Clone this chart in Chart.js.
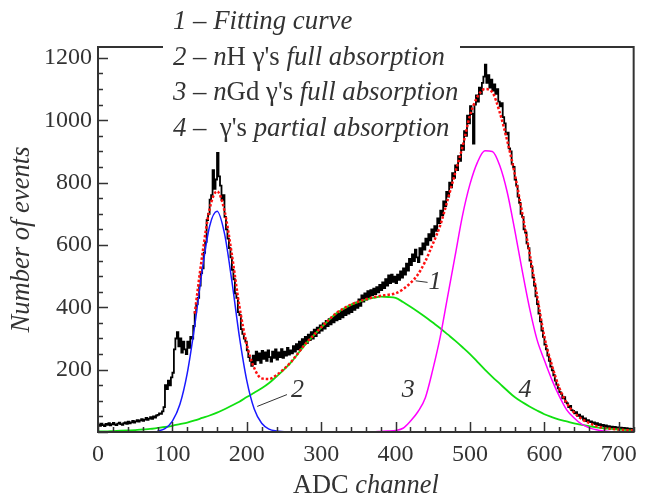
<!DOCTYPE html>
<html>
<head>
<meta charset="utf-8">
<script src="https://cdn.jsdelivr.net/npm/chart.js@4.4.0/dist/chart.umd.min.js"></script>
<style>
  html, body { margin: 0; padding: 0; background: #fff; }
</style>
</head>
<body>
<canvas id="adcChart" width="645" height="499"></canvas>
<script>
// ADC spectrum with fitted components
const binStart = 0;
const binWidth = 2;
const counts = [
  // 0-40
  24, 20, 27, 22, 19, 26, 23, 28, 21, 25, 29, 24, 22, 27, 30, 25, 23, 28, 31, 26,
  // 40-80
  33, 28, 31, 36, 30, 34, 38, 33, 37, 41, 36, 40, 45, 39, 43, 48, 42, 50, 46, 53,
  // 80-100
  55, 60, 58, 66, 80, 150, 138, 165, 150, 175,
  // 100-130
  190, 265, 300, 320, 275, 300, 255, 290, 265, 250, 290, 270, 305, 300, 340,
  // 130-160
  385, 410, 430, 470, 510, 525, 575, 610, 680, 700, 745, 760, 840, 780, 810,
  // 160-200
  895, 820, 790, 745, 760, 690, 650, 620, 590, 560, 520, 490, 445, 430, 385, 375, 330, 315, 300, 290,
  // 200-260
  262, 240, 228, 212, 245, 218, 258, 230, 252, 222, 260, 235, 255, 228, 262,
  240, 226, 258, 238, 265, 232, 255, 240, 266, 238, 258, 245, 270, 248, 262,
  // 260-300
  252, 275, 258, 282, 265, 290, 270, 298, 280, 305, 285, 312, 295, 320, 300, 328, 308, 335, 318, 342,
  // 300-350
  325, 348, 332, 356, 340, 362, 345, 368, 352, 375, 358, 380, 362, 388, 368, 392, 375, 398, 380, 404,
  385, 410, 392, 415, 398,
  // 350-400
  425, 405, 438, 418, 445, 425, 452, 430, 455, 438, 460, 442, 465, 448, 472, 455, 480, 462, 490, 470,
  502, 478, 505, 482, 498,
  // 400-440
  478, 505, 488, 515, 495, 525, 505, 540, 518, 555, 535, 570, 548, 585, 560, 545, 590, 570, 605, 585,
  // 440-480
  620, 600, 635, 615, 650, 628, 660, 645, 685, 670, 710, 695, 740, 725, 770, 755, 800, 785, 830, 815,
  // 480-520
  855, 840, 885, 870, 920, 905, 965, 950, 1015, 990, 1045, 1020, 925, 1050, 1080, 1060, 1105, 1085, 1120, 1140,
  // 520-560
  1178, 1120, 1145, 1105, 1130, 1095, 1115, 1085, 1100, 1060, 1045, 1055, 1010, 990, 955, 960, 910, 900, 860, 850,
  // 560-600
  810, 790, 755, 735, 700, 690, 650, 640, 605, 590, 550, 530, 495, 470, 435, 410, 380, 355, 325, 305,
  // 600-640
  280, 265, 245, 228, 210, 198, 182, 165, 152, 140, 128, 122, 108, 112, 96, 92, 80, 84, 70, 68,
  // 640-680
  60, 64, 52, 56, 46, 50, 40, 44, 35, 38, 32, 34, 28, 31, 25, 28, 22, 25, 20, 23,
  // 680-720
  18, 21, 16, 19, 15, 17, 13, 16, 12, 15, 12, 14, 10, 13, 10, 12, 9, 11, 8, 10
];

const fitChannels = [
  0, 10, 20, 30, 40, 50, 60, 70, 80, 90,
  100, 110, 120, 130, 140, 150, 160, 170, 180, 190,
  200, 210, 220, 230, 240, 250, 260, 270, 280, 290,
  300, 310, 320, 330, 340, 350, 360, 370, 380, 390,
  400, 410, 420, 430, 440, 450, 460, 470, 480, 490,
  500, 510, 520, 530, 540, 550, 560, 570, 580, 590,
  600, 610, 620, 630, 640, 650, 660, 670, 680, 690,
  700, 710, 720
];

const fitTotal = [
  null, null, null, null, null, null, null, null, null, null,
  null, null, null, 380, 565, 715, 772, 710, 568, 404,
  280, 205, 172, 170, 183, 202, 226, 256, 286, 311,
  336, 359, 381, 396, 409, 418, 426, 432, 437, 440,
  445, 458, 478, 505, 548, 603, 663, 745, 830, 915,
  1015, 1075, 1100, 1090, 1025, 935, 830, 705, 575, 440,
  305, 215, 142, 93, 62, 42, 29, 19, 13, 10,
  8, 6, 5
];

const nHPeak = [
  null, null, null, null, null, null, null, null, 3, 11,
  35, 88, 189, 341, 518, 660, 708, 637, 483, 307,
  165, 74, 28, 9, 3, 1, null, null, null, null,
  null, null, null, null, null, null, null, null, null, null,
  null, null, null, null, null, null, null, null, null, null,
  null, null, null, null, null, null, null, null, null, null,
  null, null, null, null, null, null, null, null, null, null,
  null, null, null
];

const nGdPeak = [
  null, null, null, null, null, null, null, null, null, null,
  null, null, null, null, null, null, null, null, null, null,
  null, null, null, null, null, null, null, null, null, null,
  null, null, null, null, 0, 0, 1, 1, 2, 3,
  5, 12, 35, 65, 110, 200, 305, 435, 565, 695,
  795, 865, 902, 900, 855, 770, 650, 520, 398, 297,
  230, 168, 115, 71, 45, 25, 14, 7, 3, 1,
  0, null, null
];

const partialAbs = [
  2, 2, 3, 4, 5, 6, 8, 10, 13, 16,
  20, 25, 30, 37, 45, 53, 62, 73, 85, 97,
  112, 126, 140, 157, 178, 200, 225, 255, 285, 310,
  335, 358, 380, 395, 408, 417, 425, 430, 434, 433,
  430, 417, 402, 386, 369, 351, 333, 313, 293, 272,
  250, 225, 200, 177, 155, 133, 112, 96, 82, 69,
  57, 48, 40, 34, 28, 23, 19, 15, 12, 10,
  8, 6, 5
];

const xTickValues = [0, 100, 200, 300, 400, 500, 600, 700];
const yTickValues = [200, 400, 600, 800, 1000, 1200];

const SERIF = '"Liberation Serif", "Times New Roman", serif';
const INK = '#333';

function pairUp(xs, ys) {
  return xs.map((x, i) => ({ x: x, y: ys[i] }));
}

const histPoints = counts.map((c, i) => ({ x: binStart + i * binWidth, y: c }));
histPoints.push({ x: binStart + counts.length * binWidth, y: counts[counts.length - 1] });

// mixed upright / italic text
function richText(ctx, parts, x, y, size, align) {
  let w = 0;
  parts.forEach(p => {
    ctx.font = (p[1] ? 'italic ' : '') + size + 'px ' + SERIF;
    w += ctx.measureText(p[0]).width;
  });
  let cx = align === 'center' ? x - w / 2 : x;
  parts.forEach(p => {
    ctx.font = (p[1] ? 'italic ' : '') + size + 'px ' + SERIF;
    ctx.fillText(p[0], cx, y);
    cx += ctx.measureText(p[0]).width;
  });
}

const legendLines = [
  [['1 – Fitting curve', true]],
  [['2 – ', true], ['n', true], ['H γ\'s ', false], ['full absorption', true]],
  [['3 – ', true], ['n', true], ['Gd γ\'s ', false], ['full absorption', true]],
  [['4 –  ', true], ['γ\'s ', false], ['partial absorption', true]]
];

const curveLabels = [
  { text: '1', x: 453, y: 482, lead: [427, 485, 443, 480] },
  { text: '2', x: 268, y: 135, lead: [214, 82, 254, 120] },
  { text: '3', x: 417, y: 135 },
  { text: '4', x: 574, y: 135 }
];

const framePlugin = {
  id: 'framePlugin',
  afterDraw(chart) {
    const ctx = chart.ctx;
    const a = chart.chartArea;
    const xs = chart.scales.x;
    const ys = chart.scales.y;
    ctx.save();
    ctx.strokeStyle = INK;
    ctx.fillStyle = INK;

    // inward ticks
    ctx.lineWidth = 1.5;
    ctx.beginPath();
    for (let v = 0; v <= 720; v += 20) {
      const px = Math.round(xs.getPixelForValue(v)) + 0.5;
      const len = v % 100 === 0 ? 10 : 5;
      ctx.moveTo(px, a.bottom);
      ctx.lineTo(px, a.bottom - len);
    }
    for (let v = 0; v <= 1200; v += 50) {
      const py = Math.round(ys.getPixelForValue(v)) + 0.5;
      const len = v % 200 === 0 ? 10 : 5;
      ctx.moveTo(a.left, py);
      ctx.lineTo(a.left + len, py);
    }
    ctx.stroke();

    // frame
    ctx.lineWidth = 2;
    ctx.strokeRect(a.left, a.top, a.right - a.left, a.bottom - a.top);

    // curve labels
    ctx.lineWidth = 1;
    ctx.textBaseline = 'middle';
    ctx.textAlign = 'left';
    curveLabels.forEach(l => {
      if (l.lead) {
        ctx.beginPath();
        ctx.moveTo(xs.getPixelForValue(l.lead[0]), ys.getPixelForValue(l.lead[1]));
        ctx.lineTo(xs.getPixelForValue(l.lead[2]), ys.getPixelForValue(l.lead[3]));
        ctx.stroke();
      }
      richText(ctx, [[l.text, true]], xs.getPixelForValue(l.x), ys.getPixelForValue(l.y), 26, 'center');
    });

    // legend box cuts the top frame line
    ctx.fillStyle = '#fff';
    ctx.fillRect(163, 0, 297, 142);
    ctx.fillStyle = INK;
    legendLines.forEach((line, i) => {
      richText(ctx, line, 173, 22 + i * 35.7, 26.8, 'left');
    });

    // axis titles
    richText(ctx, [['ADC ', false], ['channel', true]], (a.left + a.right) / 2, 486, 26.4, 'center');
    ctx.translate(22, (a.top + a.bottom) / 2);
    ctx.rotate(-Math.PI / 2);
    richText(ctx, [['Number of events', true]], 0, 0, 26.6, 'center');
    ctx.restore();
  }
};

const ctx = document.getElementById('adcChart').getContext('2d');

new Chart(ctx, {
  type: 'line',
  data: {
    datasets: [
      {
        label: 'Fitting curve',
        data: pairUp(fitChannels, fitTotal),
        borderColor: '#ff1010',
        borderWidth: 2.5,
        borderDash: [2.5, 2],
        pointRadius: 0,
        cubicInterpolationMode: 'monotone',
        spanGaps: false
      },
      {
        label: 'nH full absorption',
        data: pairUp(fitChannels, nHPeak),
        borderColor: '#1a1aff',
        borderWidth: 1.5,
        pointRadius: 0,
        cubicInterpolationMode: 'monotone',
        spanGaps: false
      },
      {
        label: 'nGd full absorption',
        data: pairUp(fitChannels, nGdPeak),
        borderColor: '#ff00ff',
        borderWidth: 1.5,
        pointRadius: 0,
        cubicInterpolationMode: 'monotone',
        spanGaps: false
      },
      {
        label: 'partial absorption',
        data: pairUp(fitChannels, partialAbs),
        borderColor: '#10e010',
        borderWidth: 1.8,
        pointRadius: 0,
        cubicInterpolationMode: 'monotone'
      },
      {
        label: 'data',
        data: histPoints,
        borderColor: '#000',
        borderWidth: 1.8,
        pointRadius: 0,
        stepped: 'before'
      }
    ]
  },
  options: {
    responsive: false,
    animation: false,
    layout: { padding: { top: 47, right: 8, left: 0, bottom: 0 } },
    plugins: {
      legend: { display: false },
      tooltip: { enabled: false }
    },
    scales: {
      x: {
        type: 'linear',
        min: 0,
        max: 720,
        grid: { display: false, drawTicks: false },
        border: { display: false },
        afterFit(scale) { scale.height = 67; },
        afterBuildTicks(scale) { scale.ticks = xTickValues.map(v => ({ value: v })); },
        ticks: {
          padding: 8,
          maxRotation: 0,
          autoSkip: false,
          color: INK,
          font: { family: SERIF, size: 24 },
          callback: v => String(v)
        }
      },
      y: {
        type: 'linear',
        min: 0,
        max: 1235,
        grid: { display: false, drawTicks: false },
        border: { display: false },
        afterFit(scale) { scale.width = 98; },
        afterBuildTicks(scale) { scale.ticks = yTickValues.map(v => ({ value: v })); },
        ticks: {
          padding: 6,
          autoSkip: false,
          color: INK,
          font: { family: SERIF, size: 24 },
          callback: v => String(v)
        }
      }
    }
  },
  plugins: [framePlugin]
});
</script>
</body>
</html>
